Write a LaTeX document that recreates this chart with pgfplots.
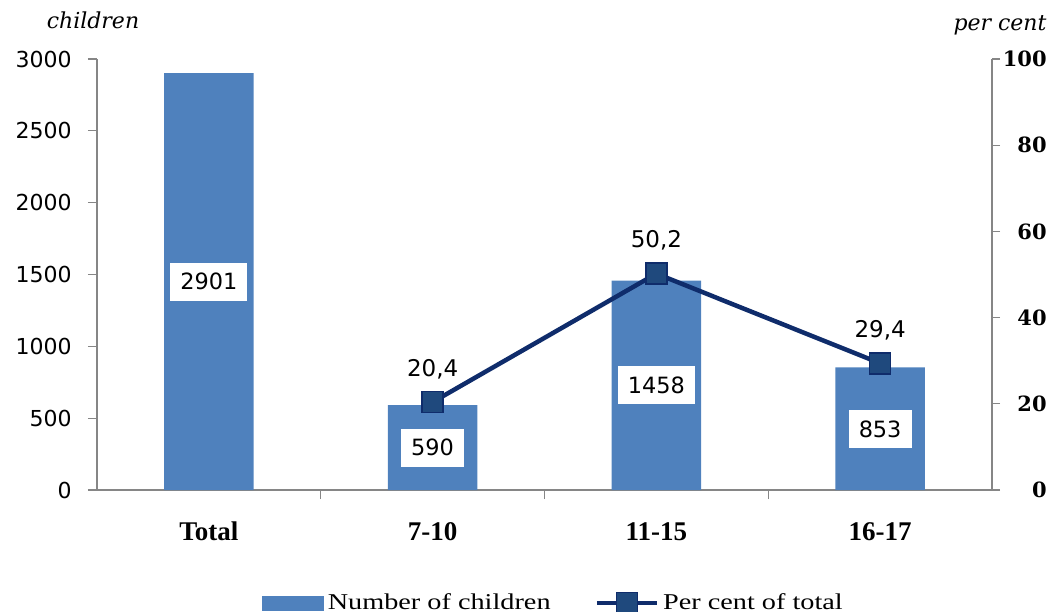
\documentclass[border=0pt]{standalone}
\usepackage{fontspec}
\setmainfont{Liberation Serif}
\newfontfamily\dvsans{DejaVu Sans}
\newfontfamily\dvserif{DejaVu Serif}
\newfontfamily\legfont{Liberation Serif}[FakeStretch=1.25]
\usepackage{pgfplots}
\pgfplotsset{compat=1.18}
\definecolor{barblue}{HTML}{4F81BD}
\definecolor{linenavy}{HTML}{0F2C6B}
\definecolor{markfill}{HTML}{1F497D}
\definecolor{axgray}{HTML}{868686}
\pgfplotsset{mylinelegend/.style={legend image code/.code={\draw[##1, mark repeat=2, mark phase=2] plot coordinates {(0bp,0bp) (15bp,0bp) (30bp,0bp)};}}}
\begin{document}
\begin{tikzpicture}
\useasboundingbox (-48.5bp,-61bp) rectangle (483.5bp,245bp);
\begin{axis}[
  scale only axis, width=447.5bp, height=215.5bp,
  xmin=-0.5, xmax=3.5, ymin=0, ymax=3000,
  clip=false,
  axis x line*=bottom, axis y line*=left,
  axis line style={draw=axgray, line width=0.6bp, -},
  tick style={draw=axgray, line width=0.6bp},
  tick align=outside, major tick length=4.5bp,
  xtick={0.5,1.5,2.5}, xticklabels={},
  extra x ticks={0,1,2,3},
  extra x tick labels={Total,7-10,11-15,16-17},
  extra x tick style={major tick length=0pt, tick label style={font=\fontsize{13.5bp}{15bp}\selectfont\bfseries, anchor=base, yshift=-25bp}},
  ytick={0,500,...,3000},
  /pgf/number format/assume math mode=true,
  /pgf/number format/1000 sep={},
  yticklabel style={font=\fontsize{11bp}{13bp}\selectfont\dvsans, inner sep=0pt, anchor=east, xshift=-8bp},
]
\addplot[ybar, bar width=0.4, fill=barblue, draw=none,
  visualization depends on={-0.5*rawy \as \dy},
  nodes near coords={\pgfmathprintnumber[1000 sep={}]{\pgfplotspointmeta}},
  every node near coord/.style={anchor=center, shift={(axis direction cs:0,\dy)}, fill=white, inner xsep=5bp, inner ysep=0pt, minimum height=19bp, text depth=0pt, font=\fontsize{11.2bp}{13bp}\selectfont\dvsans, text=black}
] coordinates {(0,2901) (1,590) (2,1458) (3,853)};
\node[font=\fontsize{11bp}{13bp}\selectfont\dvserif\itshape, anchor=base] at (rel axis cs:0,1) [xshift=-2bp, yshift=15bp] {children};
\end{axis}
\begin{axis}[
  scale only axis, width=447.5bp, height=215.5bp,
  xmin=-0.5, xmax=3.5, ymin=0, ymax=100,
  clip=false,
  axis y line*=right, axis x line=none,
  axis line style={draw=axgray, line width=0.6bp, -},
  tick style={draw=axgray, line width=0.6bp},
  tick align=outside, major tick length=4bp,
  xtick=\empty,
  ytick={0,20,...,100},
  /pgf/number format/assume math mode=true,
  yticklabel style={font=\fontsize{10.5bp}{12bp}\selectfont\dvserif\bfseries, inner sep=0pt, anchor=east, xshift=23.5bp},
  legend style={at={(0.1844,-0.262)}, anchor=west, draw=none, fill=none, inner sep=0pt, outer sep=0pt, legend columns=2, font=\legfont\fontsize{11.3bp}{13bp}\selectfont, /tikz/every even column/.append style={column sep=20bp}},
  legend cell align=left,
]
\addlegendimage{legend image code/.code={\fill[barblue] (0bp,-3.5bp) rectangle (30.5bp,3.5bp);}}
\addlegendentry{Number of children}
\addplot[linenavy, line width=2.25bp, mark=square*, mark size=5.25bp,
  mark options={fill=markfill, draw=linenavy, line width=0.8bp},
  nodes near coords={\pgfmathprintnumber[fixed,precision=1,fixed zerofill,use comma]{\pgfplotspointmeta}},
  every node near coord/.style={anchor=center, yshift=16.5bp, font=\fontsize{11.5bp}{13bp}\selectfont\dvsans, text=black},
  mylinelegend
] coordinates {(1,20.4) (2,50.2) (3,29.4)};
\addlegendentry{Per cent of total}
\node[font=\fontsize{11bp}{13bp}\selectfont\dvserif\itshape, anchor=base] at (rel axis cs:1,1) [xshift=4bp, yshift=14bp] {per cent};
\end{axis}
\end{tikzpicture}
\end{document}
